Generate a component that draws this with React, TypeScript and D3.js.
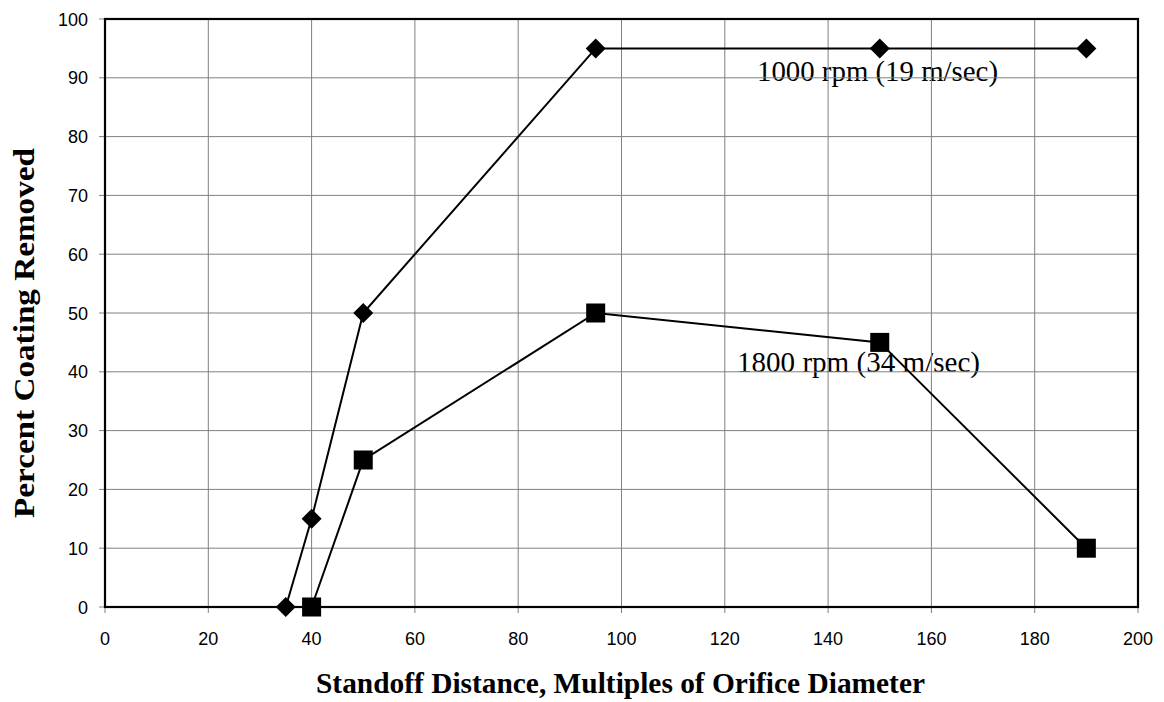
import React from "react";
import * as d3 from "d3";

// Standoff distance (multiples of orifice diameter) vs. percent coating removed
const standoff1000 = [35, 40, 50, 95, 150, 190];
const removed1000 = [0, 15, 50, 95, 95, 95];
const standoff1800 = [40, 50, 95, 150, 190];
const removed1800 = [0, 25, 50, 45, 10];
const xTicks = [0, 20, 40, 60, 80, 100, 120, 140, 160, 180, 200];
const yTicks = [0, 10, 20, 30, 40, 50, 60, 70, 80, 90, 100];
const label1000 = "1000 rpm (19 m/sec)";
const label1800 = "1800 rpm (34 m/sec)";
const xTitle = "Standoff Distance, Multiples of Orifice Diameter";
const yTitle = "Percent Coating Removed";

const W = 1164;
const H = 702;
const left = 105;
const right = 1138;
const top = 19;
const bottom = 607;
const serif = "'Liberation Serif', 'Times New Roman', serif";
const sans = "'Liberation Sans', Arial, sans-serif";

export default function App() {
  const x = d3.scaleLinear().domain([0, 200]).range([left, right]);
  const y = d3.scaleLinear().domain([0, 100]).range([bottom, top]);
  const line = d3
    .line<[number, number]>()
    .x((d) => x(d[0]))
    .y((d) => y(d[1]));
  const s1: [number, number][] = standoff1000.map((v, i) => [v, removed1000[i]]);
  const s2: [number, number][] = standoff1800.map((v, i) => [v, removed1800[i]]);
  const diamond = 10;
  const sq = 19;

  return (
    <svg
      width={W}
      height={H}
      style={{ position: "absolute", left: 0, top: 0, background: "#fff" }}
    >
      {/* annotations sit beneath the grid */}
      <text x={757} y={81} fontFamily={serif} fontSize={29} textLength={241} lengthAdjust="spacingAndGlyphs" fill="#000">
        {label1000}
      </text>
      <text x={737} y={372} fontFamily={serif} fontSize={29} textLength={243} lengthAdjust="spacingAndGlyphs" fill="#000">
        {label1800}
      </text>
      {/* grid */}
      {xTicks.slice(1, -1).map((t) => (
        <line key={"gx" + t} x1={x(t)} x2={x(t)} y1={top} y2={bottom} stroke="#808080" strokeWidth={1} />
      ))}
      {yTicks.slice(1, -1).map((t) => (
        <line key={"gy" + t} x1={left} x2={right} y1={y(t)} y2={y(t)} stroke="#808080" strokeWidth={1} />
      ))}
      {/* tick marks */}
      {xTicks.map((t) => (
        <line key={"tx" + t} x1={x(t)} x2={x(t)} y1={bottom} y2={bottom + 6} stroke="#808080" strokeWidth={1} />
      ))}
      {yTicks.map((t) => (
        <line key={"ty" + t} x1={left - 6} x2={left} y1={y(t)} y2={y(t)} stroke="#808080" strokeWidth={1} />
      ))}
      {/* frame */}
      <rect x={left} y={top} width={right - left} height={bottom - top} fill="none" stroke="#000" strokeWidth={2.2} />
      {/* tick labels */}
      {xTicks.map((t) => (
        <text key={"lx" + t} x={x(t)} y={645} textAnchor="middle" fontFamily={sans} fontSize={18} fill="#000">
          {t}
        </text>
      ))}
      {yTicks.map((t) => (
        <text key={"ly" + t} x={88} y={y(t) + 6.5} textAnchor="end" fontFamily={sans} fontSize={18} fill="#000">
          {t}
        </text>
      ))}
      {/* series */}
      <path d={line(s1) || ""} fill="none" stroke="#000" strokeWidth={2} />
      <path d={line(s2) || ""} fill="none" stroke="#000" strokeWidth={2} />
      {s1.map((d, i) => (
        <path
          key={"d" + i}
          d={`M${x(d[0])},${y(d[1]) - diamond}L${x(d[0]) + diamond},${y(d[1])}L${x(d[0])},${y(d[1]) + diamond}L${x(d[0]) - diamond},${y(d[1])}Z`}
          fill="#000"
        />
      ))}
      {s2.map((d, i) => (
        <rect key={"s" + i} x={x(d[0]) - sq / 2} y={y(d[1]) - sq / 2} width={sq} height={sq} fill="#000" />
      ))}
      {/* axis titles */}
      <text
        x={620.5}
        y={693}
        textAnchor="middle"
        fontFamily={serif}
        fontWeight="bold"
        fontSize={29.5}
        textLength={609}
        lengthAdjust="spacingAndGlyphs"
        fill="#000"
      >
        {xTitle}
      </text>
      <text
        transform={`translate(34,333) rotate(-90)`}
        textAnchor="middle"
        fontFamily={serif}
        fontWeight="bold"
        fontSize={30}
        textLength={370}
        lengthAdjust="spacingAndGlyphs"
        fill="#000"
      >
        {yTitle}
      </text>
    </svg>
  );
}
